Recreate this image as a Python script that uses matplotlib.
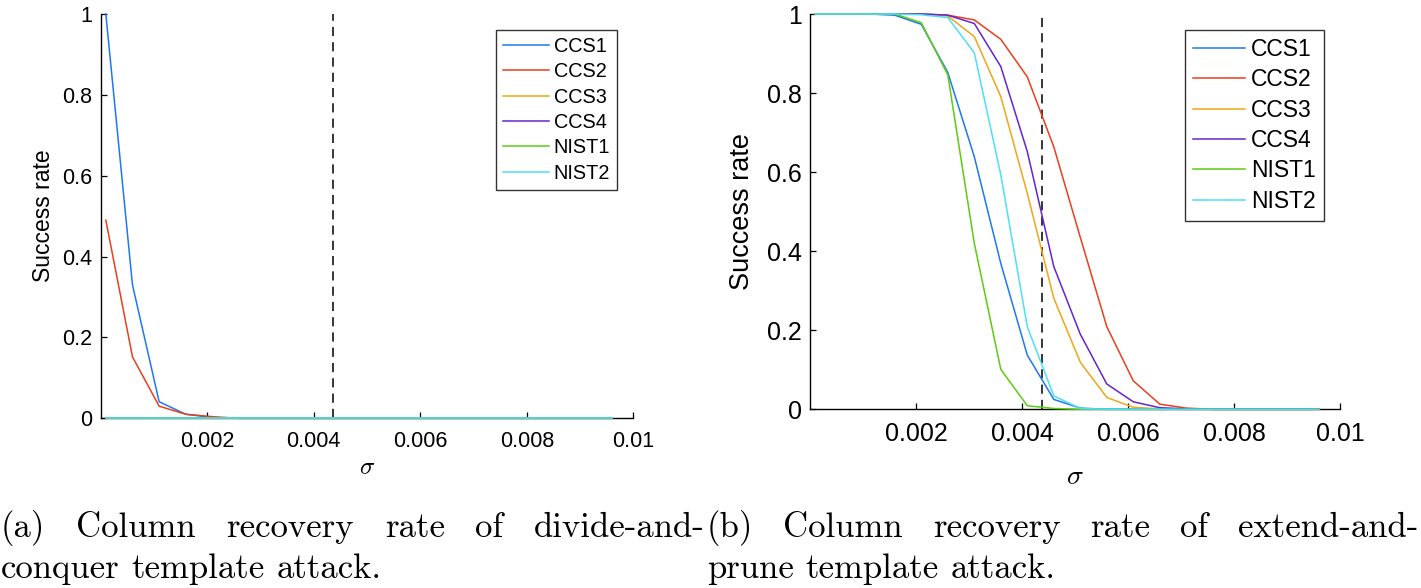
import matplotlib
matplotlib.use("Agg")
import matplotlib.pyplot as plt

plt.rcParams["font.family"] = ["Liberation Sans", "DejaVu Sans"]
plt.rcParams["mathtext.fontset"] = "cm"

W, H = 1421, 588

# ── data ──────────────────────────────────────────────
sigma = [0.0001, 0.0006, 0.0011, 0.0016, 0.0021, 0.0026, 0.0031, 0.0036,
         0.0041, 0.0046, 0.0051, 0.0056, 0.0061, 0.0066, 0.0071, 0.0076,
         0.0081, 0.0086, 0.0091, 0.0096]
names = ["CCS1", "CCS2", "CCS3", "CCS4", "NIST1", "NIST2"]
colors = ["#1E78F0", "#E8401C", "#F2A516", "#6424D0", "#5CCB12", "#4CE0F8"]

# (a) divide-and-conquer
dc_ccs1 = [1.0, 0.33, 0.041, 0.010, 0.002] + [0.0] * 15
dc_ccs2 = [0.49, 0.152, 0.030, 0.010, 0.004] + [0.0] * 15
dc_ccs3 = [0.0] * 20
dc_ccs4 = [0.0] * 20
dc_nist1 = [0.0] * 20
dc_nist2 = [0.0] * 20

# (b) extend-and-prune
ep_ccs1 = [1, 1, 1, 0.997, 0.974, 0.852, 0.639, 0.369, 0.137, 0.025,
           0.003, 0, 0, 0, 0, 0, 0, 0, 0, 0]
ep_ccs2 = [1, 1, 1, 1, 1, 0.997, 0.985, 0.936, 0.841, 0.664,
           0.435, 0.209, 0.072, 0.013, 0.003, 0, 0, 0, 0, 0]
ep_ccs3 = [1, 1, 1, 1, 1, 0.995, 0.943, 0.791, 0.546, 0.281,
           0.119, 0.030, 0.005, 0.001, 0, 0, 0, 0, 0, 0]
ep_ccs4 = [1, 1, 1, 1, 1, 0.997, 0.976, 0.867, 0.652, 0.361,
           0.190, 0.064, 0.019, 0.004, 0.001, 0, 0, 0, 0, 0]
ep_nist1 = [1, 1, 1, 1, 0.978, 0.846, 0.420, 0.101, 0.009, 0.002,
            0, 0, 0, 0, 0, 0, 0, 0, 0, 0]
ep_nist2 = [1, 1, 1, 1, 0.998, 0.991, 0.902, 0.593, 0.209, 0.034,
            0.002, 0, 0, 0, 0, 0, 0, 0, 0, 0]

sigma_mark = 0.00437
xticks = [0.002, 0.004, 0.006, 0.008, 0.01]
xticklabels = ["0.002", "0.004", "0.006", "0.008", "0.01"]
yticks = [0, 0.2, 0.4, 0.6, 0.8, 1]
yticklabels = ["0", "0.2", "0.4", "0.6", "0.8", "1"]

cap_a = [["(a)", "Column", "recovery", "rate", "of", "divide-and-"],
         ["conquer", "template", "attack."]]
cap_b = [["(b)", "Column", "recovery", "rate", "of", "extend-and-"],
         ["prune", "template", "attack."]]


def px_box(x0, x1, ytop, ybot):
    return [x0 / W, 1 - ybot / H, (x1 - x0) / W, (ybot - ytop) / H]


def style_axes(ax, fs, lab_fs, leg_fs, leg_anchor, ylab_x):
    ax.set_xlim(0, 0.01)
    ax.set_ylim(0, 1)
    ax.set_xticks(xticks, xticklabels)
    ax.set_yticks(yticks, yticklabels)
    for s in ("top", "right"):
        ax.spines[s].set_visible(False)
    for s in ("left", "bottom"):
        ax.spines[s].set_linewidth(1.0)
    ax.tick_params(direction="in", length=4, width=0.9, labelsize=fs, pad=9)
    ax.tick_params(axis="y", pad=6)
    ax.set_ylabel("Success rate", fontsize=lab_fs)
    ax.yaxis.set_label_coords(ylab_x, 0.5)
    ax.axvline(sigma_mark, color="black", lw=1.1, ls=(0, (6, 4)))
    leg = ax.legend(loc="upper right", bbox_to_anchor=leg_anchor,
                    bbox_transform=ax.figure.transFigure,
                    fontsize=leg_fs, frameon=True, fancybox=False,
                    handlelength=2.3, handletextpad=0.25, labelspacing=0.32,
                    borderpad=0.35, borderaxespad=0)
    leg.get_frame().set_edgecolor("black")
    leg.get_frame().set_linewidth(1.0)


fig = plt.figure(figsize=(W / 100, H / 100), dpi=100)

ax1 = fig.add_axes(px_box(100.5, 633.5, 14, 418.3))
for y, n, c in zip([dc_ccs1, dc_ccs2, dc_ccs3, dc_ccs4, dc_nist1, dc_nist2],
                   names, colors):
    ax1.plot(sigma, y, color=c, lw=1.1, label=n, clip_on=False, zorder=3)
style_axes(ax1, 15.5, 16.5, 14.3, (617 / W, 1 - 30 / H), -0.086)

ax2 = fig.add_axes(px_box(810, 1340, 14, 409.3))
for y, n, c in zip([ep_ccs1, ep_ccs2, ep_ccs3, ep_ccs4, ep_nist1, ep_nist2],
                   names, colors):
    ax2.plot(sigma, y, color=c, lw=1.1, label=n, clip_on=False, zorder=3)
style_axes(ax2, 18, 19.5, 16.5, (1324 / W, 1 - 30 / H), -0.104)

fig.text(367 / W, 1 - 467 / H, r"$\sigma$", fontsize=18, ha="center", va="center")
fig.text(1075 / W, 1 - 477 / H, r"$\sigma$", fontsize=20, ha="center", va="center")


# captions, justified like the LaTeX subcaption
def caption(lines, x0, x1, baselines, fs):
    rend = fig.canvas.get_renderer()
    for i, (words, yb) in enumerate(zip(lines, baselines)):
        ts = [fig.text(0, 1 - yb / H, w, family="cmr10", fontsize=fs,
                       va="baseline") for w in words]
        ws = [t.get_window_extent(rend).width for t in ts]
        if i == 0:
            gap = (x1 - x0 - sum(ws)) / (len(ws) - 1)
        else:
            gap = 0.333 * fs * 100 / 72
        x = x0
        for t, w in zip(ts, ws):
            t.set_x(x / W)
            x += w + gap


caption(cap_a, 1, 705, [537, 578], 25)
caption(cap_b, 707, 1418, [537, 578], 25)

fig.savefig("out.png", dpi=100)
